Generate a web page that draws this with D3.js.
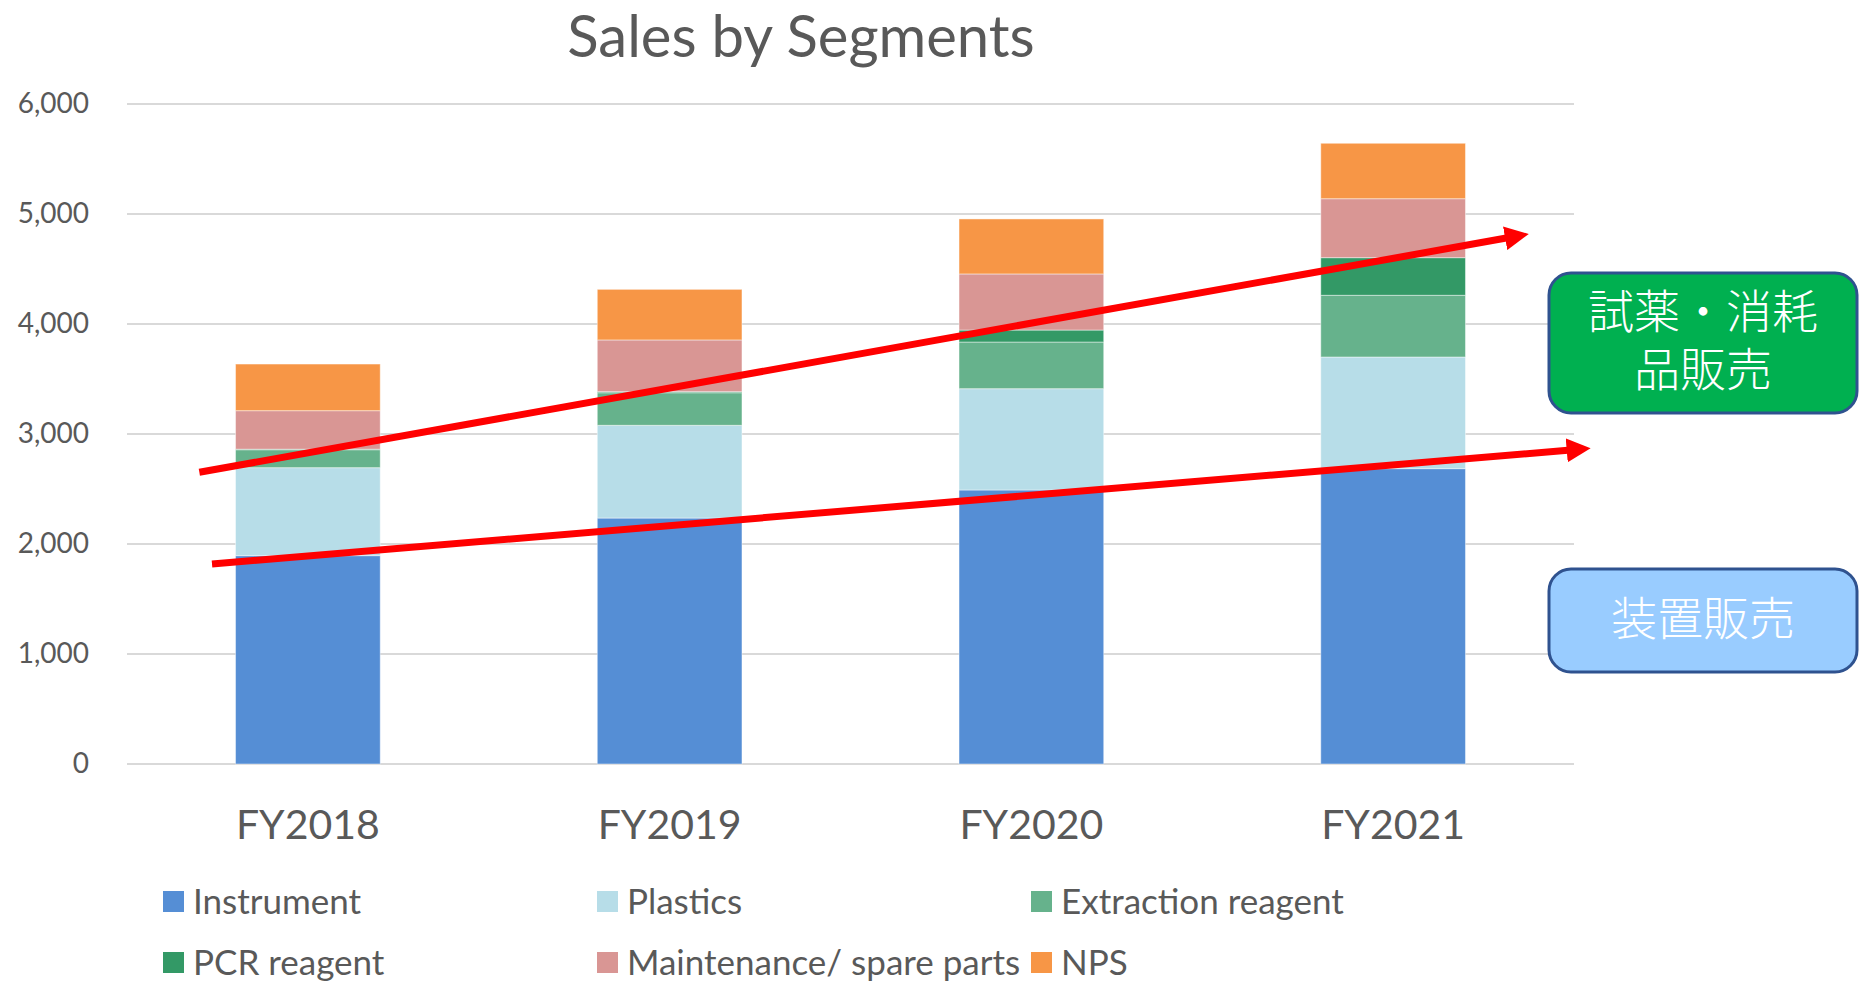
<!DOCTYPE html>
<html>
<head>
<meta charset="utf-8">
<script src="https://cdn.jsdelivr.net/npm/d3@7"></script>
<style>
  body { margin: 0; background: #fff; }
  svg { display: block; }
</style>
</head>
<body>
<svg id="chart" width="1859" height="981"></svg>
<script>
// years on the x axis
const years = ["FY2018", "FY2019", "FY2020", "FY2021"];

// segment names (stack order, bottom to top)
const segments = ["Instrument", "Plastics", "Extraction reagent", "PCR reagent", "Maintenance/ spare parts", "NPS"];

// sales per segment
const instrument  = [1894, 2236, 2491, 2685];
const plastics    = [800, 843, 921, 1015];
const extraction  = [163, 296, 424, 561];
const pcr         = [5, 10, 109, 342];
const maintenance = [350, 470, 510, 536];
const nps         = [424, 460, 500, 504];

const yTicks = [0, 1000, 2000, 3000, 4000, 5000, 6000];

// trend arrows: [category index, value] start -> tip
const arrowFrom = [[-0.30, 2652], [-0.265, 1818]];
const arrowTo   = [[3.375, 4818], [3.546, 2870]];

// callout boxes
const boxLines = [["試薬・消耗", "品販売"], ["装置販売"]];

const colors = ["#558ED5", "#B7DDE8", "#66B28C", "#339966", "#D99694", "#F79646"];

// ----------------------------------------------------

const svg = d3.select("#chart");
const font = "Lato, 'Noto Sans', sans-serif";
const textColor = "#595959";

const margin = {left: 127, right: 285, top: 104, bottom: 217};
const W = 1859, H = 981;

const x = d3.scaleBand()
  .domain(years)
  .range([margin.left, W - margin.right])
  .paddingInner(0.6)
  .paddingOuter(0.3);

const y = d3.scaleLinear()
  .domain([0, 6000])
  .range([H - margin.bottom, margin.top]);

// fractional category position -> pixel
const xIdx = d3.scaleLinear()
  .domain([0, 1])
  .range([x(years[0]) + x.bandwidth() / 2, x(years[1]) + x.bandwidth() / 2]);

// title
svg.append("text")
  .attr("x", 801)
  .attr("y", 57)
  .attr("text-anchor", "middle")
  .attr("font-family", font)
  .attr("font-size", 58)
  .attr("fill", textColor)
  .text("Sales by Segments");

// gridlines
svg.append("g")
  .selectAll("line")
  .data(yTicks)
  .enter()
  .append("line")
  .attr("x1", margin.left)
  .attr("x2", W - margin.right)
  .attr("y1", d => y(d))
  .attr("y2", d => y(d))
  .attr("stroke", "#D9D9D9")
  .attr("stroke-width", 2);

// y axis labels
const yAxis = d3.axisLeft(y)
  .tickValues(yTicks)
  .tickFormat(d3.format(","))
  .tickSize(0)
  .tickPadding(0);

const yG = svg.append("g")
  .attr("transform", "translate(89,0)")
  .call(yAxis);
yG.select(".domain").remove();
yG.selectAll("text")
  .attr("font-family", font)
  .attr("font-size", 28)
  .attr("fill", textColor);

// x axis labels
const xAxis = d3.axisBottom(x).tickSize(0).tickPadding(0);
const xG = svg.append("g")
  .attr("transform", "translate(0,810)")
  .call(xAxis);
xG.select(".domain").remove();
xG.selectAll("text")
  .attr("font-family", font)
  .attr("font-size", 41)
  .attr("fill", textColor);

// stacked bars
const seriesValues = [instrument, plastics, extraction, pcr, maintenance, nps];
const table = years.map((yr, i) => {
  const row = {year: yr};
  segments.forEach((s, k) => { row[s] = seriesValues[k][i]; });
  return row;
});

const stack = d3.stack().keys(segments)(table);

svg.append("g")
  .selectAll("g")
  .data(stack)
  .enter()
  .append("g")
  .attr("fill", (d, k) => colors[k])
  .selectAll("rect")
  .data(d => d)
  .enter()
  .append("rect")
  .attr("x", d => x(d.data.year))
  .attr("width", x.bandwidth())
  .attr("y", d => y(d[1]))
  .attr("height", d => y(d[0]) - y(d[1]))
  .attr("stroke", "rgba(255,255,255,0.45)")
  .attr("stroke-width", 1);

// legend
const legendCols = [163, 597, 1031];
const legendRows = [901.5, 962.5];
const legend = svg.append("g")
  .selectAll("g")
  .data(segments)
  .enter()
  .append("g")
  .attr("transform", (d, k) => "translate(" + legendCols[k % 3] + "," + legendRows[Math.floor(k / 3)] + ")");

legend.append("rect")
  .attr("x", 0)
  .attr("y", -10.5)
  .attr("width", 21)
  .attr("height", 21)
  .attr("fill", (d, k) => colors[k]);

legend.append("text")
  .attr("x", 30)
  .attr("y", 12)
  .attr("font-family", font)
  .attr("font-size", 35)
  .attr("fill", textColor)
  .text(d => d);

// trend arrows
svg.append("defs")
  .append("marker")
  .attr("id", "head")
  .attr("viewBox", "0 0 10 10")
  .attr("refX", 10)
  .attr("refY", 5)
  .attr("markerUnits", "userSpaceOnUse")
  .attr("markerWidth", 24)
  .attr("markerHeight", 24)
  .attr("orient", "auto")
  .append("path")
  .attr("d", "M0,0 L10,5 L0,10 Z")
  .attr("fill", "#FF0000");

arrowFrom.forEach((a, k) => {
  const b = arrowTo[k];
  const x1 = xIdx(a[0]), y1 = y(a[1]);
  const x2 = xIdx(b[0]), y2 = y(b[1]);
  // stop the shaft under the head so the tip stays sharp
  const len = Math.hypot(x2 - x1, y2 - y1);
  const ex = x2 - (x2 - x1) / len * 20, ey = y2 - (y2 - y1) / len * 20;
  svg.append("line")
    .attr("x1", x1).attr("y1", y1)
    .attr("x2", ex).attr("y2", ey)
    .attr("stroke", "#FF0000")
    .attr("stroke-width", 7);
  svg.append("path")
    .attr("d", "M" + ex + "," + ey + " L" + x2 + "," + y2)
    .attr("stroke", "none")
    .attr("marker-end", "url(#head)");
});

// callout boxes
const boxes = [
  {top: 273, bottom: 413, fill: "#00B050", lines: boxLines[0]},
  {top: 569, bottom: 672, fill: "#99CCFF", lines: boxLines[1]}
];
const boxLeft = 1549, boxRight = 1857;

boxes.forEach(b => {
  svg.append("rect")
    .attr("x", boxLeft)
    .attr("y", b.top)
    .attr("width", boxRight - boxLeft)
    .attr("height", b.bottom - b.top)
    .attr("rx", 22)
    .attr("fill", b.fill)
    .attr("stroke", "#2F528F")
    .attr("stroke-width", 3);

  const cy = (b.top + b.bottom) / 2 - 2;
  const lh = 58;
  const cx = (boxLeft + boxRight) / 2;
  const label = svg.append("text")
    .attr("text-anchor", "middle")
    .attr("font-family", "'Noto Sans CJK JP', sans-serif")
    .attr("font-weight", 300)
    .attr("font-size", 46)
    .attr("fill", "#fff");
  // one text element, one tspan per line
  b.lines.forEach((t, i) => {
    label.append("tspan")
      .attr("x", cx)
      .attr("y", cy + (i - (b.lines.length - 1) / 2) * lh + 16)
      .text(t);
  });
});
</script>
</body>
</html>
